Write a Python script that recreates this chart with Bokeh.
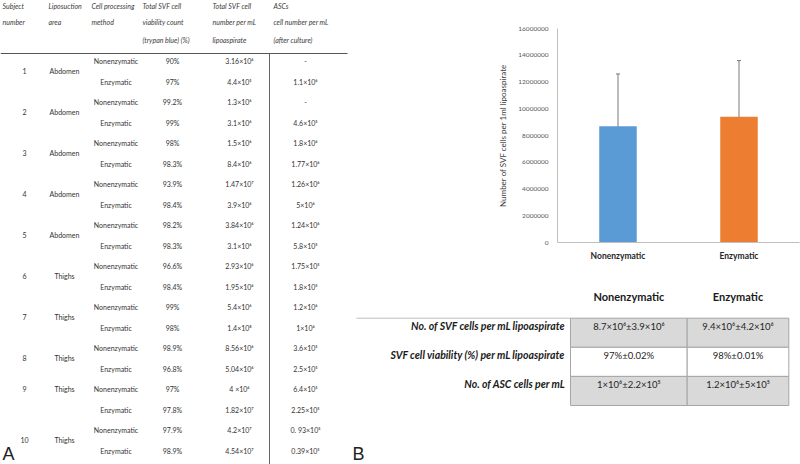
from bokeh.plotting import figure
from bokeh.layouts import row, column
from bokeh.models import (Range1d, FactorRange, ColumnDataSource, Whisker,
                          FixedTicker, NumeralTickFormatter, TeeHead)
from bokeh.core.properties import value
from bokeh.embed import file_html
from bokeh.resources import INLINE

# ---------------- data: panel A table ----------------
subject_ids = ["1", "2", "3", "4", "5", "6", "7", "8", "9", "10"]
lipo_areas = ["Abdomen", "Abdomen", "Abdomen", "Abdomen", "Abdomen",
              "Thighs", "Thighs", "Thighs", "Thighs", "Thighs"]
proc_methods = ["Nonenzymatic", "Enzymatic"] * 10
viability = ["90%", "97%", "99.2%", "99%", "98%", "98.3%", "93.9%", "98.4%",
             "98.2%", "98.3%", "96.6%", "98.4%", "99%", "98%", "98.9%", "96.8%",
             "97%", "97.8%", "97.9%", "98.9%"]
svf_counts = ["3.16×10⁶", "4.4×10⁵", "1.3×10⁶", "3.1×10⁶", "1.5×10⁶", "8.4×10⁶",
              "1.47×10⁷", "3.9×10⁶", "3.84×10⁶", "3.1×10⁶", "2.93×10⁶", "1.95×10⁶",
              "5.4×10⁶", "1.4×10⁸", "8.56×10⁶", "5.04×10⁶", "4 ×10⁶", "1.82×10⁷",
              "4.2×10⁷", "4.54×10⁷"]
asc_counts = ["-", "1.1×10⁶", "-", "4.6×10⁵", "1.8×10⁶", "1.77×10⁶", "1.26×10⁶",
              "5×10⁶", "1.24×10⁶", "5.8×10⁵", "1.75×10⁵", "1.8×10⁵", "1.2×10⁶",
              "1×10⁶", "3.6×10⁵", "2.5×10⁵", "6.4×10⁵", "2.25×10⁵", "0. 93×10⁵",
              "0.39×10⁵"]
header_cols = [
    ["Subject", "number"],
    ["Liposuction", "area"],
    ["Cell processing", " method"],
    ["Total SVF cell", "viability count", "(trypan blue) (%)"],
    ["Total SVF cell", "number per mL", "lipoaspirate"],
    ["ASCs", " cell number per mL", "(after culture)"],
]

# ---------------- data: panel B chart + table ----------------
methods = ["Nonenzymatic", "Enzymatic"]
svf_mean = [8.7e6, 9.4e6]
svf_sd = [3.9e6, 4.2e6]
bar_colors = ["#5b9bd5", "#ed7d31"]
y_ticks = [0, 2000000, 4000000, 6000000, 8000000, 10000000, 12000000, 14000000, 16000000]

summary_labels = ["No. of SVF cells per mL lipoaspirate",
                  "SVF cell viability (%) per mL lipoaspirate",
                  "No. of ASC cells per mL"]
summary_nonenz = ["8.7×10⁶±3.9×10⁶", "97%±0.02%", "1×10⁶±2.2×10⁵"]
summary_enz = ["9.4×10⁶±4.2×10⁶", "98%±0.01%", "1.2×10⁶±5×10⁵"]

FONT = "Lato"


def blank(width, height, xr, yr):
    p = figure(width=width, height=height, x_range=Range1d(*xr), y_range=Range1d(*yr),
               output_backend="svg", toolbar_location=None, min_border=0,
               x_axis_type=None, y_axis_type=None)
    p.outline_line_color = None
    p.background_fill_color = "white"
    p.border_fill_color = "white"
    return p


# ================= Panel A =================
pa = blank(350, 464, (0, 350), (464, 0))
ROW0, ROWH = 60.5, 20.5
row_y = [ROW0 + ROWH * i for i in range(len(proc_methods))]
srcA = ColumnDataSource(dict(y=row_y, method=proc_methods, via=viability,
                             svf=svf_counts, asc=asc_counts))
for col, xc in [("method", 115.5), ("via", 172), ("svf", 239), ("asc", 305)]:
    pa.text(x=xc, y="y", text=col, source=srcA, text_align="center",
            text_baseline="middle", text_font=value(FONT), text_font_size="7px",
            text_color="#333333")

subj_y = []
for k in range(len(subject_ids)):
    pos = 2 * k if subject_ids[k] == "9" else 2 * k + 0.5
    subj_y.append(ROW0 + ROWH * pos)
srcS = ColumnDataSource(dict(y=subj_y, sid=subject_ids, area=lipo_areas))
pa.text(x=24, y="y", text="sid", source=srcS, text_align="center", text_baseline="middle",
        text_font=value(FONT), text_font_size="7px", text_color="#333333")
pa.text(x=64, y="y", text="area", source=srcS, text_align="center", text_baseline="middle",
        text_font=value(FONT), text_font_size="7px", text_color="#333333")

head_x = [2, 48, 91, 142, 212, 273]
head_line_y = [5, 21, 39]
hx, hy, ht = [], [], []
for xl, lines in zip(head_x, header_cols):
    for j, t in enumerate(lines):
        hx.append(xl)
        hy.append(head_line_y[j])
        ht.append(t)
pa.text(x=hx, y=hy, text=ht, text_align="left", text_baseline="middle",
        text_font=value(FONT), text_font_size="7px", text_font_style="italic",
        text_color="#3c3c3c")
pa.segment(x0=[0], y0=[53], x1=[347], y1=[53], line_color="#555555", line_width=1)
pa.segment(x0=[269], y0=[53], x1=[269], y1=[464], line_color="#666666", line_width=1)
pa.text(x=[2], y=[453], text=["A"], text_font=value("Liberation Sans"),
        text_font_size="18px", text_baseline="alphabetic", text_color="#222222")

# ================= Panel B chart =================
srcB = ColumnDataSource(dict(method=methods, mean=svf_mean, color=bar_colors,
                             upper=[m + s for m, s in zip(svf_mean, svf_sd)],
                             lower=[m - s for m, s in zip(svf_mean, svf_sd)]))
pc = figure(width=450, height=270, x_range=FactorRange(*methods), y_range=Range1d(0, 16e6),
            output_backend="svg", toolbar_location=None,
            min_border_left=207, min_border_right=1, min_border_top=28, min_border_bottom=28)
pc.vbar(x="method", top="mean", width=0.31, source=srcB, fill_color="color", line_color=None)
w = Whisker(base="method", upper="upper", lower="lower", source=srcB,
            line_color="#7a7a7a", line_width=1,
            upper_head=TeeHead(size=4, line_color="#7a7a7a"),
            lower_head=TeeHead(size=4, line_color="#7a7a7a"))
pc.add_layout(w)
pc.grid.visible = False
pc.outline_line_color = None
pc.xaxis.axis_line_color = "#bfbfbf"
pc.xaxis.major_tick_line_color = None
pc.xaxis.minor_tick_line_color = None
pc.xaxis.major_label_text_font = FONT
pc.xaxis.major_label_text_font_style = "bold"
pc.xaxis.major_label_text_font_size = "8.5px"
pc.xaxis.major_label_text_color = "#262626"
pc.xaxis.major_label_standoff = 2
pc.yaxis.ticker = FixedTicker(ticks=y_ticks)
pc.yaxis.formatter = NumeralTickFormatter(format="0")
pc.yaxis.axis_line_color = "#bfbfbf"
pc.yaxis.major_tick_line_color = None
pc.yaxis.minor_tick_line_color = None
pc.yaxis.major_label_text_font = FONT
pc.yaxis.major_label_text_font_size = "6.5px"
pc.yaxis.major_label_text_color = "#595959"
pc.yaxis.major_label_standoff = 3
pc.yaxis.axis_label = "Number of SVF cells per 1ml lipoaspirate"
pc.yaxis.axis_label_text_font = FONT
pc.yaxis.axis_label_text_font_style = "normal"
pc.yaxis.axis_label_text_font_size = "8px"
pc.yaxis.axis_label_text_color = "#404040"
pc.yaxis.axis_label_standoff = 7

# ================= Panel B table =================
ptb = blank(450, 194, (350, 800), (464, 270))
col_edges = [570, 686.7, 788.3]
row_top0, row_h = 317.7, 29.1
row_fill = ["#d9d9d9", "#ffffff", "#d9d9d9"]
ql, qr, qt, qb, qf = [], [], [], [], []
for r in range(len(summary_labels)):
    for c in range(len(methods)):
        ql.append(col_edges[c]); qr.append(col_edges[c + 1])
        qt.append(row_top0 + r * row_h); qb.append(row_top0 + (r + 1) * row_h)
        qf.append(row_fill[r])
ptb.quad(left=ql, right=qr, top=qt, bottom=qb, fill_color=qf, line_color="#a6a6a6",
         line_width=1)
ptb.segment(x0=[356], y0=[row_top0], x1=[col_edges[0]], y1=[row_top0],
            line_color="#bdbdbd", line_width=1)
col_centers = [(col_edges[i] + col_edges[i + 1]) / 2 for i in range(2)]
ptb.text(x=col_centers, y=[296, 296], text=methods, text_align="center",
         text_baseline="middle", text_font=value(FONT), text_font_size="11px",
         text_font_style="bold", text_color="#1a1a1a")
lab_y = [row_top0 + r * row_h + 8 for r in range(len(summary_labels))]
ptb.text(x=565, y=lab_y, text=summary_labels, text_align="right", text_baseline="middle",
         text_font=value(FONT), text_font_size="10.5px", text_font_style="bold italic",
         text_color="#1a1a1a")
ptb.text(x=col_centers[0], y=lab_y, text=summary_nonenz, text_align="center",
         text_baseline="middle", text_font=value(FONT), text_font_size="9.5px",
         text_color="#262626")
ptb.text(x=col_centers[1], y=lab_y, text=summary_enz, text_align="center",
         text_baseline="middle", text_font=value(FONT), text_font_size="9.5px",
         text_color="#262626")
ptb.text(x=[352], y=[453], text=["B"], text_font=value("Liberation Sans"),
         text_font_size="18px", text_baseline="alphabetic", text_color="#222222")

layout = row(pa, column(row(pc), row(ptb)))
open("out.html", "w").write(file_html(layout, INLINE))
